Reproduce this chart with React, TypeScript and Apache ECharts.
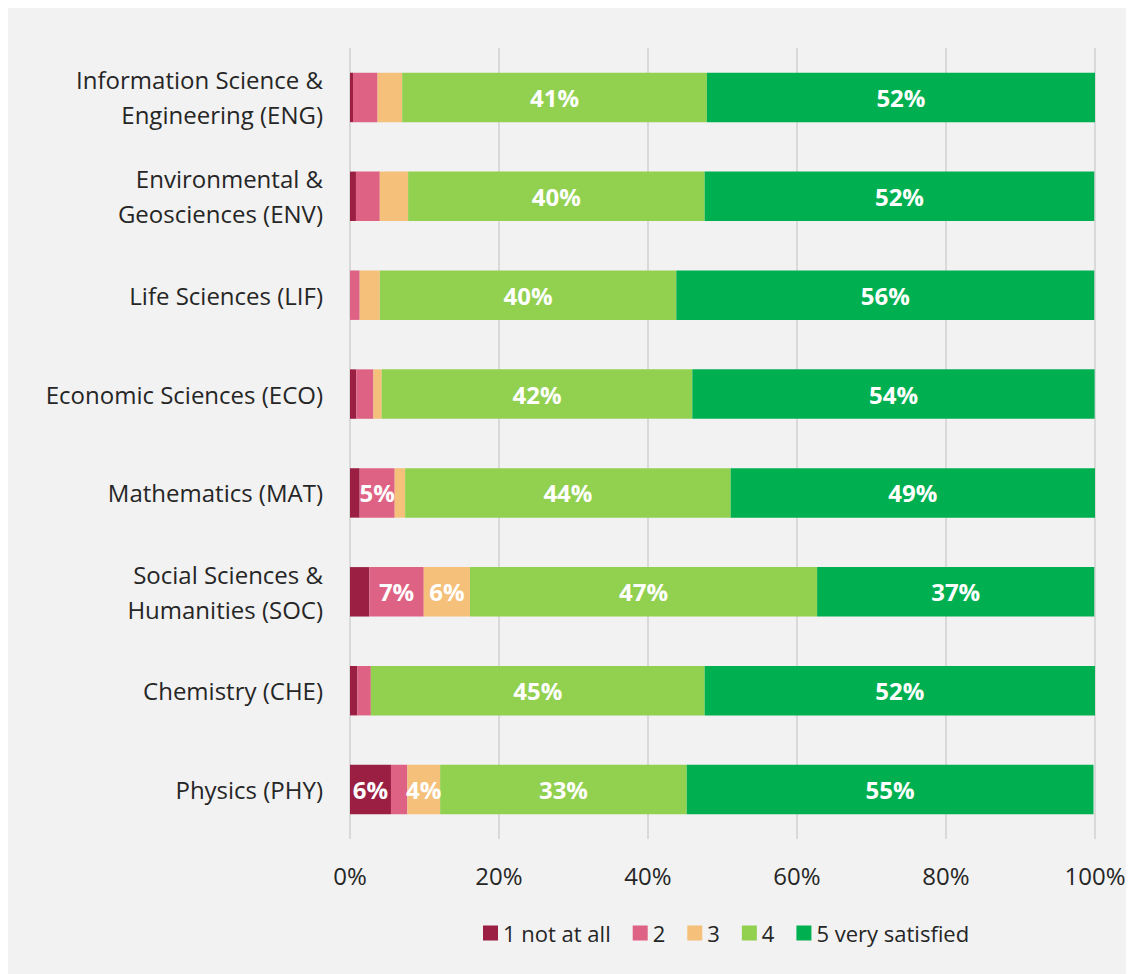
import React, { useEffect, useRef } from "react";
import * as echarts from "echarts";

const categories = [
  "Information Science &\nEngineering (ENG)",
  "Environmental &\nGeosciences (ENV)",
  "Life Sciences (LIF)",
  "Economic Sciences (ECO)",
  "Mathematics (MAT)",
  "Social Sciences &\nHumanities (SOC)",
  "Chemistry (CHE)",
  "Physics (PHY)",
];

const seriesNames = ["1 not at all", "2", "3", "4", "5 very satisfied"];

const s1 = [0.4, 0.8, 0, 0.85, 1.3, 2.6, 1.0, 5.5];
const s2 = [3.3, 3.2, 1.3, 2.3, 4.7, 7.3, 1.8, 2.2];
const s3 = [3.3, 3.8, 2.7, 1.1, 1.4, 6.2, 0, 4.4];
const s4 = [40.9, 39.8, 39.8, 41.7, 43.7, 46.6, 44.8, 33.1];
const s5 = [52.1, 52.3, 56.1, 54.0, 48.9, 37.2, 52.4, 54.6];

const seriesData = [s1, s2, s3, s4, s5];
const colors = ["#9B1F42", "#DE6283", "#F4C07A", "#92D050", "#00B050"];

const xTicks = [0, 20, 40, 60, 80, 100];

const FONT = "'Open Sans', 'Noto Sans', sans-serif";

export default function App() {
  const ref = useRef<HTMLDivElement>(null);
  useEffect(() => {
    if (!ref.current) return;
    const chart = echarts.init(ref.current, null, { renderer: "svg" });
    chart.setOption({
      animation: false,
      backgroundColor: "#F2F2F2",
      textStyle: { fontFamily: FONT },
      grid: { left: 342, right: 39, top: 40, bottom: 135, containLabel: false },
      legend: {
        left: 470,
        top: 909,
        itemWidth: 15,
        itemHeight: 15,
        itemGap: 22,
        icon: "rect",
        textStyle: { fontSize: 22, color: "#262626", fontFamily: FONT },
        data: seriesNames,
      },
      xAxis: {
        type: "value",
        min: 0,
        max: 100,
        interval: 20,
        axisLine: { show: false },
        axisTick: { show: false },
        splitLine: { show: true, lineStyle: { color: "#D9D9D9", width: 2 } },
        axisLabel: {
          fontSize: 24,
          color: "#262626",
          margin: 24,
          formatter: (v: number) => (xTicks.includes(v) ? v + "%" : ""),
        },
      },
      yAxis: {
        type: "category",
        inverse: true,
        data: categories,
        axisLine: { show: false },
        axisTick: { show: false },
        axisLabel: {
          fontSize: 24,
          color: "#262626",
          margin: 27,
          lineHeight: 35,
          align: "right",
        },
      },
      series: seriesData.map((d, i) => ({
        name: seriesNames[i],
        type: "bar",
        stack: "total",
        barCategoryGap: "50%",
        itemStyle: { color: colors[i] },
        label: {
          show: true,
          position: "inside",
          color: "#FFFFFF",
          fontWeight: "bold",
          fontSize: 24,
          fontFamily: FONT,
          formatter: (p: any) => (p.value >= 4 ? Math.round(p.value) + "%" : ""),
        },
        data: d,
      })),
    });
    return () => chart.dispose();
  }, []);
  return <div ref={ref} style={{ width: 1126, height: 966 }} />;
}
